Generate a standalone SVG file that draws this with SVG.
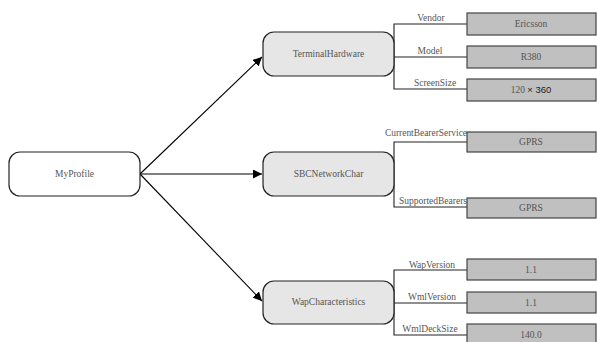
<svg xmlns="http://www.w3.org/2000/svg" width="597" height="342" viewBox="0 0 597 342">
<defs>
<marker id="ah" viewBox="0 0 10 10" refX="10" refY="5" markerWidth="9" markerHeight="9" markerUnits="userSpaceOnUse" orient="auto">
<path d="M0,0 L10,5 L0,10 z" fill="#000"/>
</marker>
</defs>
<style>
.node{stroke:#222;stroke-width:1.2}
.root{fill:#fff}
.mid{fill:#e6e6e6}
.val{fill:#c0c0c0;stroke:#444;stroke-width:1.2}
.t{font-family:"Liberation Serif",serif;font-size:9.5px;fill:#555;text-anchor:middle}
.lbl{font-family:"Liberation Serif",serif;font-size:9.5px;fill:#555;text-anchor:middle}
.edge{stroke:#000;stroke-width:1.1;fill:none}
.br{stroke:#222;stroke-width:1.1;fill:none}
</style>
<g id="connectors">
<line class="edge" x1="140" y1="174" x2="262" y2="57" marker-end="url(#ah)"/>
<line class="edge" x1="140" y1="174" x2="262" y2="174" marker-end="url(#ah)"/>
<line class="edge" x1="140" y1="174" x2="262" y2="301" marker-end="url(#ah)"/>
<path class="br" d="M467,24 H394 V89 H467 M394,57 H467"/>
<path class="br" d="M467,142 H394 V207 H467"/>
<path class="br" d="M467,270 H394 V335 H467 M394,303 H467"/>
<text class="lbl" x="431" y="21">Vendor</text>
<text class="lbl" x="430" y="54">Model</text>
<text class="lbl" x="435" y="86">ScreenSize</text>
<text class="lbl" x="426" y="136" textLength="82" lengthAdjust="spacingAndGlyphs">CurrentBearerService</text>
<text class="lbl" x="433" y="204" textLength="68" lengthAdjust="spacingAndGlyphs">SupportedBearers</text>
<text class="lbl" x="432" y="268">WapVersion</text>
<text class="lbl" x="432" y="300">WmlVersion</text>
<text class="lbl" x="430" y="332">WmlDeckSize</text>
</g>
<g id="MyProfile">
<rect class="node root" x="9" y="152" width="131" height="44" rx="11"/>
<text class="t" x="74.5" y="177">MyProfile</text>
</g>
<g id="TerminalHardware">
<rect class="node mid" x="263" y="32" width="131" height="44" rx="11"/>
<text class="t" x="328.5" y="57">TerminalHardware</text>
</g>
<g id="SBCNetworkChar">
<rect class="node mid" x="263" y="152" width="131" height="44" rx="11"/>
<text class="t" x="328.5" y="177">SBCNetworkChar</text>
</g>
<g id="WapCharacteristics">
<rect class="node mid" x="263" y="281" width="131" height="43" rx="11"/>
<text class="t" x="328.5" y="305">WapCharacteristics</text>
</g>
<g id="Vendor-value">
<rect class="val" x="467" y="13" width="129" height="22"/>
<text class="t" x="531" y="27">Ericsson</text>
</g>
<g id="Model-value">
<rect class="val" x="467" y="46" width="129" height="22"/>
<text class="t" x="531" y="60">R380</text>
</g>
<g id="ScreenSize-value">
<rect class="val" x="467" y="79" width="129" height="22"/>
<text class="t" x="531" y="93">120 <tspan font-family="'Liberation Sans',sans-serif" fill="#222">× 360</tspan></text>
</g>
<g id="CurrentBearerService-value">
<rect class="val" x="467" y="132" width="129" height="20"/>
<text class="t" x="531" y="145">GPRS</text>
</g>
<g id="SupportedBearers-value">
<rect class="val" x="467" y="198" width="129" height="20"/>
<text class="t" x="531" y="211">GPRS</text>
</g>
<g id="WapVersion-value">
<rect class="val" x="467" y="259" width="129" height="21"/>
<text class="t" x="531" y="273">1.1</text>
</g>
<g id="WmlVersion-value">
<rect class="val" x="467" y="292" width="129" height="21"/>
<text class="t" x="531" y="306">1.1</text>
</g>
<g id="WmlDeckSize-value">
<rect class="val" x="467" y="324" width="129" height="22"/>
<text class="t" x="531" y="338">140.0</text>
</g>
</svg>
